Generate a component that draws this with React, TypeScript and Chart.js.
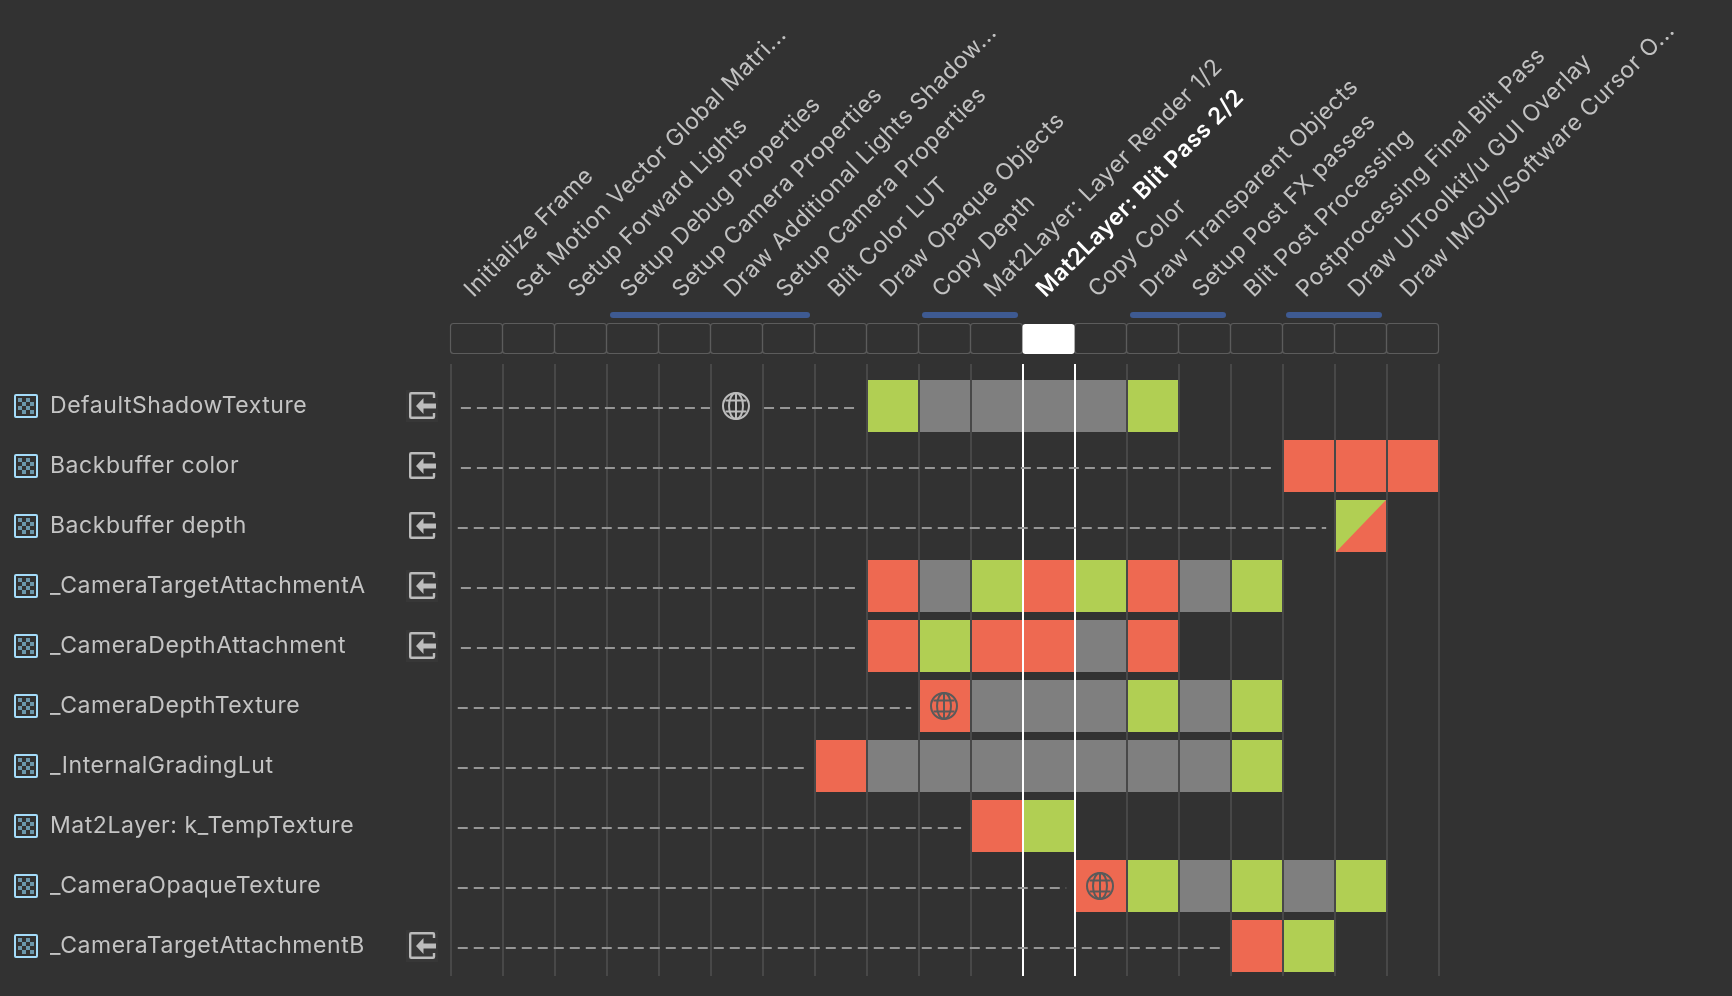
import React, { useEffect, useRef } from "react";
import { Chart, registerables } from "chart.js";

Chart.register(...registerables);

const passLabels = [
  "Initialize Frame",
  "Set Motion Vector Global Matri...",
  "Setup Forward Lights",
  "Setup Debug Properties",
  "Setup Camera Properties",
  "Draw Additional Lights Shadow...",
  "Setup Camera Properties",
  "Blit Color LUT",
  "Draw Opaque Objects",
  "Copy Depth",
  "Mat2Layer: Layer Render 1/2",
  "Mat2Layer: Blit Pass 2/2",
  "Copy Color",
  "Draw Transparent Objects",
  "Setup Post FX passes",
  "Blit Post Processing",
  "Postprocessing Final Blit Pass",
  "Draw UIToolkit/u GUI Overlay",
  "Draw IMGUI/Software Cursor O...",
];
const resourceLabels = [
  "DefaultShadowTexture",
  "Backbuffer color",
  "Backbuffer depth",
  "_CameraTargetAttachmentA",
  "_CameraDepthAttachment",
  "_CameraDepthTexture",
  "_InternalGradingLut",
  "Mat2Layer: k_TempTexture",
  "_CameraOpaqueTexture",
  "_CameraTargetAttachmentB",
];
const selectedPass = 11;
const mergedPassGroups = [[3, 6], [9, 10], [13, 14], [16, 17]];
const importedRows = [0, 1, 2, 3, 4, 9];
const highlightedImportRows = [0, 3, 4, 9];

// [row, pass]
const writeCells = [
  [1, 16], [1, 17], [1, 18], [3, 8], [3, 11], [3, 13], [4, 8], [4, 10], [4, 11], [4, 13],
  [6, 7], [7, 10], [9, 15],
];
const readCells = [
  [0, 8], [0, 13], [3, 10], [3, 12], [3, 15], [4, 9], [5, 13], [5, 15], [6, 15], [7, 11],
  [8, 13], [8, 15], [8, 17], [9, 16],
];
const idleCells = [
  [0, 9], [0, 10], [0, 11], [0, 12], [3, 9], [3, 14], [4, 12], [5, 10], [5, 11], [5, 12], [5, 14],
  [6, 8], [6, 9], [6, 10], [6, 11], [6, 12], [6, 13], [6, 14], [8, 14], [8, 16],
];
const readWriteCells = [[2, 17]];
const writeGlobalCells = [[5, 9], [8, 12]];
const idleGlobalCells = [[0, 5]];

const lifetimeStarts = [-0.31, -0.31, -0.37, -0.31, -0.31, -0.37, -0.37, -0.37, -0.37, -0.37];
const lifetimeEnds = [7.29, 15.3, 16.33, 7.29, 7.29, 8.35, 6.36, 9.31, 11.33, 14.35];
const lifetimeGapRow = 0;
const lifetimeGap = [4.48, 5.52];

const BG = "#323232";
const RED = "#ee6951";
const GREEN = "#b1cf53";
const GRAY = "#7f7f7f";
const GRID = "#484848";
const FONT = "Inter";

function drawGlobe(ctx: CanvasRenderingContext2D, cx: number, cy: number, color: string) {
  const r = 13;
  ctx.save();
  ctx.strokeStyle = color;
  ctx.lineWidth = 2;
  ctx.beginPath();
  ctx.arc(cx, cy, r, 0, Math.PI * 2);
  ctx.stroke();
  ctx.beginPath();
  ctx.ellipse(cx, cy, 7, r, 0, 0, Math.PI * 2);
  ctx.stroke();
  ctx.beginPath();
  ctx.moveTo(cx, cy - r);
  ctx.lineTo(cx, cy + r);
  ctx.moveTo(cx - r + 2.5, cy - 5.5);
  ctx.lineTo(cx + r - 2.5, cy - 5.5);
  ctx.moveTo(cx - r + 2.5, cy + 5.5);
  ctx.lineTo(cx + r - 2.5, cy + 5.5);
  ctx.stroke();
  ctx.restore();
}

function makeCell(paint: (ctx: CanvasRenderingContext2D, w: number, h: number) => void) {
  const c = document.createElement("canvas");
  c.width = 50;
  c.height = 52;
  paint(c.getContext("2d") as CanvasRenderingContext2D, 50, 52);
  return c;
}
const solidCell = (color: string) =>
  makeCell((ctx, w, h) => {
    ctx.fillStyle = color;
    ctx.fillRect(0, 0, w, h);
  });

function drawResourceIcon(ctx: CanvasRenderingContext2D, x: number, y: number) {
  const n = 4;
  const cell = 4;
  ctx.fillStyle = "#6b97ab";
  for (let i = 0; i < n; i++) {
    for (let j = 0; j < n; j++) {
      if ((i + j) % 2 === 0) ctx.fillRect(x + 4 + i * cell, y + 4 + j * cell, cell, cell);
    }
  }
  ctx.strokeStyle = "#a4dcfa";
  ctx.lineWidth = 2;
  ctx.beginPath();
  ctx.roundRect(x + 1, y + 1, 22, 22, 1);
  ctx.stroke();
}

function drawImportIcon(ctx: CanvasRenderingContext2D, x: number, y: number) {
  ctx.strokeStyle = "#bcbcbc";
  ctx.fillStyle = "#bcbcbc";
  ctx.lineWidth = 2.4;
  ctx.lineJoin = "round";
  ctx.beginPath();
  ctx.moveTo(x + 25, y + 6);
  ctx.lineTo(x + 25, y + 2.2);
  ctx.quadraticCurveTo(x + 25, y + 1.2, x + 24, y + 1.2);
  ctx.lineTo(x + 2.2, y + 1.2);
  ctx.quadraticCurveTo(x + 1.2, y + 1.2, x + 1.2, y + 2.2);
  ctx.lineTo(x + 1.2, y + 24.8);
  ctx.quadraticCurveTo(x + 1.2, y + 25.8, x + 2.2, y + 25.8);
  ctx.lineTo(x + 24, y + 25.8);
  ctx.quadraticCurveTo(x + 25, y + 25.8, x + 25, y + 24.8);
  ctx.lineTo(x + 25, y + 21);
  ctx.stroke();
  ctx.beginPath();
  ctx.moveTo(x + 7, y + 14);
  ctx.lineTo(x + 14.5, y + 6);
  ctx.lineTo(x + 14.5, y + 11.5);
  ctx.lineTo(x + 27, y + 11.5);
  ctx.lineTo(x + 27, y + 16.5);
  ctx.lineTo(x + 14.5, y + 16.5);
  ctx.lineTo(x + 14.5, y + 22);
  ctx.closePath();
  ctx.fill();
}

const headerPlugin = {
  id: "passHeader",
  beforeDraw(chart: any) {
    chart.ctx.letterSpacing = "0.55px";
  },
  afterDraw(chart: any) {
    const { ctx, scales } = chart;
    const { x, y } = scales;
    const edge = (k: number) => x.getPixelForValue(k - 0.5);
    ctx.save();
    passLabels.forEach((_, k) => {
      if (k === selectedPass) return;
      ctx.strokeStyle = "#5c5c5c";
      ctx.lineWidth = 1.2;
      ctx.beginPath();
      ctx.roundRect(edge(k) - 0.5, 323.5, 52, 30, 3);
      ctx.stroke();
    });
    ctx.fillStyle = "#ffffff";
    ctx.beginPath();
    ctx.roundRect(edge(selectedPass) - 0.5, 324, 52, 30, 3);
    ctx.fill();
    ctx.fillStyle = "#3e5a92";
    mergedPassGroups.forEach(([a, b]) => {
      const x0 = edge(a) + 3;
      const x1 = edge(b + 1) - 5;
      ctx.beginPath();
      ctx.roundRect(x0, 312, x1 - x0, 6, 3);
      ctx.fill();
    });
    resourceLabels.forEach((_, r) => {
      const cy = y.getPixelForValue(r);
      drawResourceIcon(ctx, 14, Math.round(cy) - 12);
      if (importedRows.includes(r)) {
        if (highlightedImportRows.includes(r)) {
          ctx.fillStyle = "#373737";
          ctx.fillRect(406, cy - 16, 32, 32);
        }
        drawImportIcon(ctx, 409, cy - 14);
      }
    });
    ctx.restore();
  },
};

export default function App() {
  const ref = useRef<HTMLCanvasElement>(null);
  useEffect(() => {
    if (!ref.current) return;
    const pts = (cells: number[][]) => cells.map(([r, c]) => ({ x: c, y: r }));
    const cellSet = (data: number[][], style: HTMLCanvasElement) => ({
      data: pts(data),
      pointStyle: style,
      pointRadius: 5,
      showLine: false,
      parsing: false as const,
    });
    const dashY = 0.033;
    const lifetimes = resourceLabels.map((_, r) => {
      const data =
        r === lifetimeGapRow
          ? [
              { x: lifetimeStarts[r], y: r + dashY },
              { x: lifetimeGap[0], y: r + dashY },
              { x: NaN, y: NaN },
              { x: lifetimeGap[1], y: r + dashY },
              { x: lifetimeEnds[r], y: r + dashY },
            ]
          : [
              { x: lifetimeStarts[r], y: r + dashY },
              { x: lifetimeEnds[r], y: r + dashY },
            ];
      return {
        data,
        showLine: true,
        spanGaps: false,
        borderColor: "#969696",
        borderWidth: 2,
        borderDash: [10, 6],
        pointRadius: 0,
        parsing: false as const,
      };
    });
    const splitCell = makeCell((ctx, w, h) => {
      ctx.fillStyle = RED;
      ctx.fillRect(0, 0, w, h);
      ctx.fillStyle = GREEN;
      ctx.beginPath();
      ctx.moveTo(0, 0);
      ctx.lineTo(w, 0);
      ctx.lineTo(0, h);
      ctx.closePath();
      ctx.fill();
    });
    const redGlobe = makeCell((ctx, w, h) => {
      ctx.fillStyle = RED;
      ctx.fillRect(0, 0, w, h);
      drawGlobe(ctx, 24, 26, "#5a5a5a");
    });
    const bareGlobe = makeCell((ctx) => drawGlobe(ctx, 24, 26, "#bdbdbd"));

    const chart = new Chart(ref.current, {
      type: "scatter",
      data: {
        labels: passLabels,
        datasets: [
          ...lifetimes,
          cellSet(writeCells, solidCell(RED)),
          cellSet(readCells, solidCell(GREEN)),
          cellSet(idleCells, solidCell(GRAY)),
          cellSet(readWriteCells, splitCell),
          cellSet(writeGlobalCells, redGlobe),
          cellSet(idleGlobalCells, bareGlobe),
        ] as any,
      },
      options: {
        responsive: false,
        animation: false,
        layout: { padding: { left: 50, right: 293, top: 0, bottom: 20 } },
        plugins: { legend: { display: false }, tooltip: { enabled: false } },
        scales: {
          x: {
            type: "category",
            position: "top",
            offset: true,
            labels: passLabels,
            afterFit: (s: any) => {
              s.height = 364;
              s.paddingLeft = 0;
              s.paddingRight = 0;
            },
            grid: {
              offset: true,
              drawTicks: false,
              lineWidth: 2,
              color: (c: any) =>
                c.index === selectedPass || c.index === selectedPass + 1 ? "#ffffff" : GRID,
            },
            border: { display: false },
            ticks: {
              autoSkip: false,
              minRotation: 45,
              maxRotation: 45,
              padding: 61,
              labelOffset: 11,
              font: (c: any) => ({
                family: FONT,
                size: 23,
                weight: c.index === selectedPass ? "600" : "normal",
              }),
              color: (c: any) => (c.index === selectedPass ? "#ffffff" : "#c2c2c2"),
            },
          },
          y: {
            type: "linear",
            min: -0.7,
            max: 9.5,
            reverse: true,
            afterFit: (s: any) => {
              s.width = 401;
            },
            afterBuildTicks: (s: any) => {
              s.ticks = resourceLabels.map((_, i) => ({ value: i }));
            },
            grid: { display: false },
            border: { display: false },
            ticks: {
              autoSkip: false,
              crossAlign: "far",
              padding: 0,
              font: { family: FONT, size: 23 },
              color: "#c4c4c4",
              callback: (v: any) => resourceLabels[v],
            },
          },
        },
      } as any,
      plugins: [headerPlugin],
    });
    return () => chart.destroy();
  }, []);
  return (
    <div style={{ position: "fixed", left: 0, top: 0, width: 1732, height: 996, background: BG }}>
      <canvas ref={ref} width={1732} height={996} style={{ display: "block" }} />
    </div>
  );
}
